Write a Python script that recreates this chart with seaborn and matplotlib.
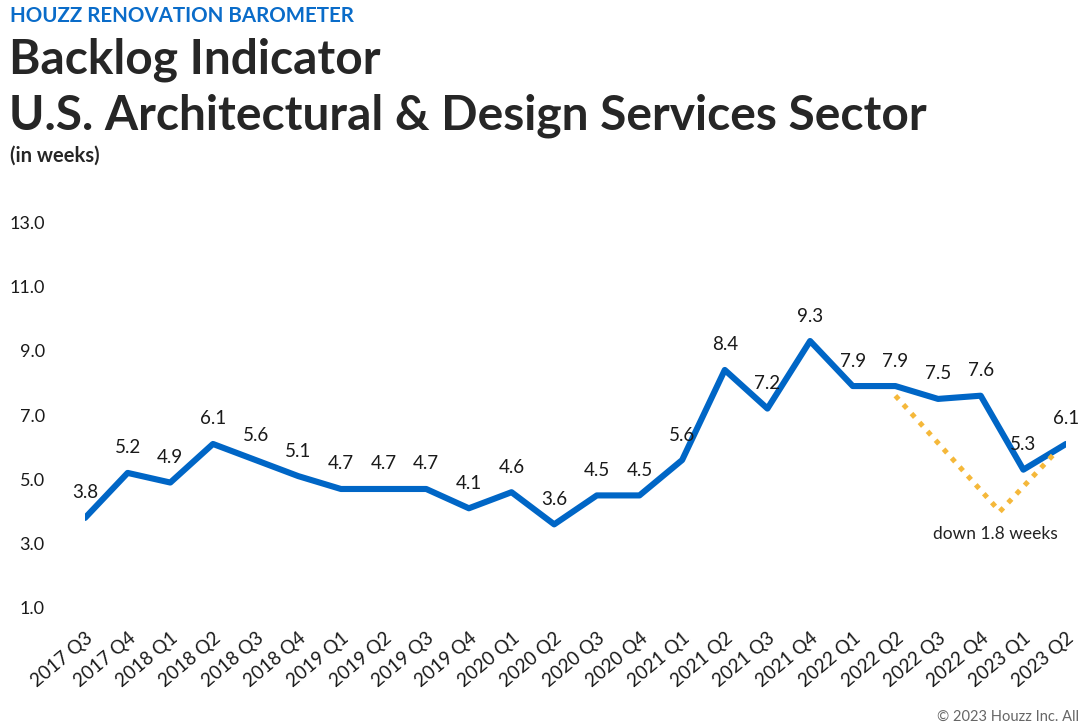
import matplotlib.pyplot as plt
import seaborn as sns
import pandas as pd
import numpy as np

# Backlog (weeks) by quarter
quarters = ['2017 Q3', '2017 Q4', '2018 Q1', '2018 Q2', '2018 Q3', '2018 Q4',
            '2019 Q1', '2019 Q2', '2019 Q3', '2019 Q4', '2020 Q1', '2020 Q2',
            '2020 Q3', '2020 Q4', '2021 Q1', '2021 Q2', '2021 Q3', '2021 Q4',
            '2022 Q1', '2022 Q2', '2022 Q3', '2022 Q4', '2023 Q1', '2023 Q2']
backlog = [3.8, 5.2, 4.9, 6.1, 5.6, 5.1, 4.7, 4.7, 4.7, 4.1, 4.6, 3.6,
           4.5, 4.5, 5.6, 8.4, 7.2, 9.3, 7.9, 7.9, 7.5, 7.6, 5.3, 6.1]

# dotted "down 1.8 weeks" guide
dip_x = [19, 21.45, 22.8]
dip_y = [7.6, 4.0, 5.9]

yticks = [1.0, 3.0, 5.0, 7.0, 9.0, 11.0, 13.0]

df = pd.DataFrame({'pos': np.arange(len(quarters)), 'quarter': quarters, 'weeks': backlog})

sns.set_style('white')
plt.rcParams['font.family'] = ['Lato', 'DejaVu Sans']

fig = plt.figure(figsize=(10.78, 7.27), dpi=100)
ax = fig.add_axes([85 / 1078, 1 - 608 / 727, (1066 - 85) / 1078, (608 - 222) / 727])

sns.lineplot(data=df, x='pos', y='weeks', ax=ax, color='#0066C6', linewidth=4.4)
ax.plot(dip_x, dip_y, color='#F5B83A', linewidth=3.6, linestyle=(0, (1, 1.4)))

for i, v in enumerate(backlog):
    ax.annotate(f'{v:.1f}', (i, v), xytext=(0, 18), textcoords='offset points',
                ha='center', va='center', fontsize=13.5, color='#1a1a1a')

ax.text(21.34, 3.3, 'down 1.8 weeks', ha='center', va='center', fontsize=12.5, color='#222222')

ax.set_xlim(0, len(quarters) - 1)
ax.set_ylim(1, 13)
ax.set_yticks(yticks)
ax.set_yticklabels([f'{t:.1f}' for t in yticks], fontsize=13, color='#1a1a1a')
ax.set_xticks(df['pos'])
ax.set_xticklabels(quarters, rotation=40, ha='right', rotation_mode='anchor',
                   fontsize=13.5, color='#1a1a1a')
ax.tick_params(axis='y', length=0, pad=29)
ax.tick_params(axis='x', length=0, pad=15)
ax.set_xlabel('')
ax.set_ylabel('')
sns.despine(ax=ax, left=True, bottom=True)

fig.text(10 / 1078, 1 - 22 / 727, 'HOUZZ RENOVATION BAROMETER', fontsize=14.8,
         fontweight='bold', color='#0A6CC9', va='baseline')
fig.text(9 / 1078, 1 - 73 / 727, 'Backlog Indicator', fontsize=34.5,
         fontweight='bold', color='#262626', va='baseline')
fig.text(9 / 1078, 1 - 130 / 727, 'U.S. Architectural & Design Services Sector', fontsize=34.5,
         fontweight='bold', color='#262626', va='baseline')
fig.text(10 / 1078, 1 - 162 / 727, '(in weeks)', fontsize=14.5,
         fontweight='bold', color='#262626', va='baseline')
fig.text(937 / 1078, 1 - 721 / 727, '© 2023 Houzz Inc. All', fontsize=10.5,
         color='#666666', va='baseline')

fig.savefig('out.png', dpi=100)
